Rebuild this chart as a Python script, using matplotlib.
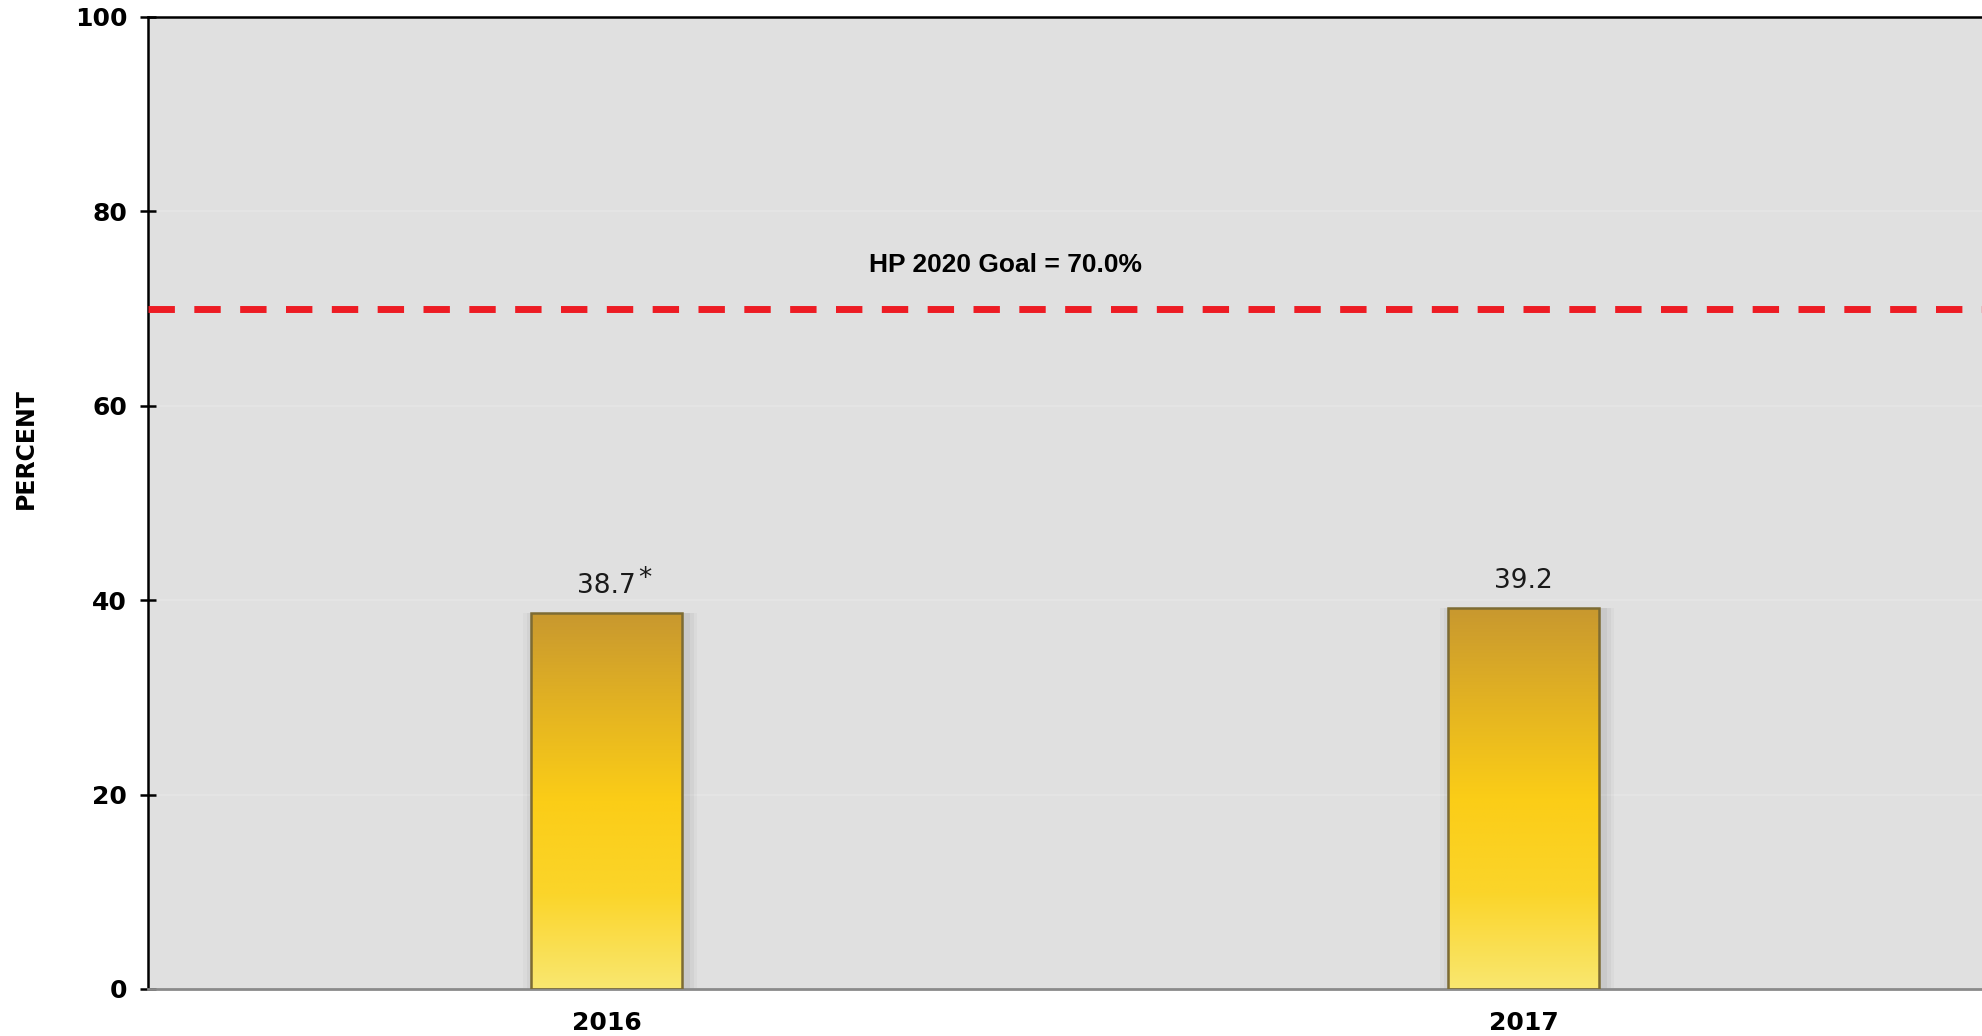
import numpy as np
import matplotlib
matplotlib.use("Agg")
import matplotlib.pyplot as plt
from matplotlib.colors import LinearSegmentedColormap

years = ["2016", "2017"]
percent = [38.7, 39.2]
value_labels = ["38.7", "39.2"]
value_notes = ["*", ""]
goal = 70.0
goal_label = "HP 2020 Goal = 70.0%"
y_ticks = [0, 20, 40, 60, 80, 100]

# gold gradient, bottom -> top
gold = LinearSegmentedColormap.from_list(
    "gold", ["#f9e770", "#fbd52a", "#fbcd17", "#e3b322", "#c8982f"])

fig = plt.figure(figsize=(19.82, 10.36), dpi=100)
ax = fig.add_axes([0.0747, 0.0454, 0.9253, 0.9382])
ax.set_facecolor("#e0e0e0")

x = np.arange(len(years))
ax.set_xlim(-0.5, 1.5)
ax.set_ylim(0, 100)

ax.set_yticks(y_ticks)
ax.yaxis.grid(True, color="#e6e6e6", linewidth=1.2)
ax.set_axisbelow(True)

# soft shadow behind bars, a few faint layers
for w, a in [(0.190, 0.06), (0.182, 0.08), (0.175, 0.10)]:
    ax.bar(x + 0.004, percent, width=w, color="#808080", alpha=a,
           linewidth=0, zorder=1)
bars = ax.bar(x, percent, width=0.165, color="none", edgecolor="#7d6b33",
              linewidth=1.8, zorder=3)

grad = np.linspace(0, 1, 256).reshape(-1, 1)
for b in bars:
    x0, y0 = b.get_x(), b.get_y()
    im = ax.imshow(grad, cmap=gold, aspect="auto", origin="lower",
                   extent=[x0, x0 + b.get_width(), y0, y0 + b.get_height()],
                   zorder=2)
    im.set_clip_path(b)

for xi, v, lab, note in zip(x, percent, value_labels, value_notes):
    ax.annotate(lab, (xi, v), xytext=(0, 10), textcoords="offset points",
                ha="center", va="bottom", fontsize=19, color="#1a1a1a")
    if note:
        ax.annotate(note, (xi, v), xytext=(23, 15), textcoords="offset points",
                    ha="left", va="bottom", fontsize=19, color="#1a1a1a")

ax.axhline(goal, color="#ed1c24", linewidth=5, linestyle=(0, (3.8, 2.8)),
           zorder=4)
ax.text(0.435, goal + 4.5, goal_label, ha="center", va="center",
        fontsize=19, fontweight="bold", family="Liberation Sans")

ax.set_xticks(x)
ax.set_xticklabels(years, fontsize=18, fontweight="bold")
ax.tick_params(axis="x", length=0, pad=16)
ax.tick_params(axis="y", direction="inout", length=12, width=1.8,
               labelsize=18, pad=9)
for t in ax.get_yticklabels():
    t.set_fontweight("bold")

ax.set_ylabel("PERCENT", fontsize=17, fontweight="bold")
ax.yaxis.set_label_coords(-0.060, 0.556)

ax.spines["right"].set_visible(False)
ax.spines["left"].set_linewidth(1.8)
ax.spines["top"].set_linewidth(1.8)
ax.spines["bottom"].set_color("#8a8a8a")
ax.spines["bottom"].set_linewidth(2)

fig.savefig("out.png", dpi=100)
